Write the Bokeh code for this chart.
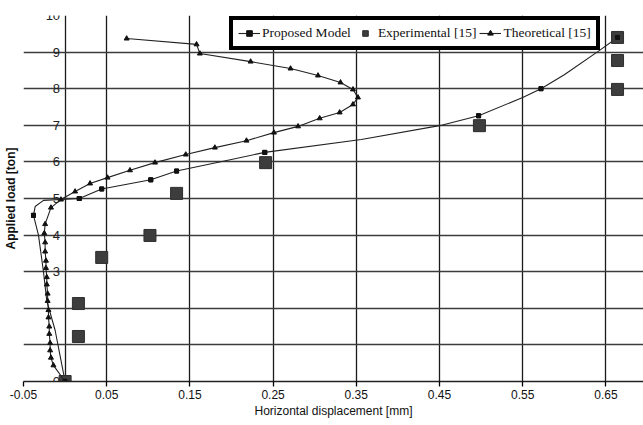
from bokeh.plotting import figure
from bokeh.models import FixedTicker, Legend, LegendItem, Label, Range1d
from bokeh.embed import file_html
from bokeh.resources import INLINE

# ---- data ----
X_TICKS = [-0.05, 0.05, 0.15, 0.25, 0.35, 0.45, 0.55, 0.65]
X_GRID = [-0.05, 0.0, 0.05, 0.15, 0.25, 0.35, 0.45, 0.55, 0.65]
Y_TICKS = [0, 1, 2, 3, 4, 5, 6, 7, 8, 9, 10]
Y_TICK_LABELS = ["0", "", "", "3", "4", "5", "6", "7", "8", "9", "10"]

# Proposed Model (line path and its marker points)
PM_X = [0.0, -0.006, -0.012, -0.022, -0.026, -0.032, -0.038, -0.036, -0.026, 0.017,
        0.044, 0.103, 0.134, 0.190, 0.240, 0.356, 0.450, 0.497, 0.550, 0.572,
        0.600, 0.642, 0.664]
PM_Y = [0.0, 0.7, 1.4, 2.2, 3.0, 4.0, 4.54, 4.78, 4.95, 5.0,
        5.26, 5.51, 5.75, 6.02, 6.26, 6.61, 6.99, 7.26, 7.76, 8.0,
        8.38, 9.04, 9.40]
PM_MX = [0.0, -0.038, 0.017, 0.044, 0.103, 0.134, 0.240, 0.497, 0.572, 0.664]
PM_MY = [0.0, 4.54, 5.0, 5.26, 5.51, 5.75, 6.26, 7.26, 8.0, 9.40]

# Experimental [15]
EX_X = [0.0, 0.016, 0.016, 0.044, 0.102, 0.134, 0.241, 0.498, 0.664, 0.664, 0.664]
EX_Y = [0.0, 1.23, 2.13, 3.39, 3.99, 5.14, 5.98, 6.99, 7.98, 8.77, 9.40]

# Theoretical [15]
TH_X = [0.0, -0.014, -0.017, -0.018, -0.018, -0.019, -0.019, -0.020, -0.020, -0.021,
        -0.021, -0.022, -0.022, -0.023, -0.023, -0.024, -0.024, -0.025, -0.024, -0.017,
        -0.005, 0.012, 0.030, 0.051, 0.078, 0.108, 0.145, 0.180, 0.218, 0.251,
        0.280, 0.306, 0.330, 0.346, 0.352, 0.346, 0.331, 0.304, 0.271, 0.223,
        0.162, 0.158, 0.074]
TH_Y = [0.0, 0.44, 0.65, 0.85, 1.05, 1.3, 1.5, 1.75, 1.95, 2.2,
        2.4, 2.65, 2.85, 3.1, 3.3, 3.55, 3.8, 4.05, 4.3, 4.75,
        4.97, 5.19, 5.41, 5.57, 5.77, 5.98, 6.20, 6.39, 6.58, 6.80,
        6.97, 7.19, 7.35, 7.57, 7.76, 7.98, 8.17, 8.36, 8.55, 8.74,
        8.96, 9.21, 9.37]

NARROW = "'Liberation Sans Narrow', 'Liberation Sans', Arial, sans-serif"

p = figure(width=643, height=425, output_backend="svg", toolbar_location=None,
           x_range=Range1d(-0.05, 0.6952), y_range=Range1d(0, 10),
           min_border_left=22, min_border_right=0, min_border_top=15,
           min_border_bottom=44)
p.outline_line_color = None
p.background_fill_color = "white"
p.border_fill_color = "white"

# grid
p.xgrid.ticker = FixedTicker(ticks=X_GRID)
p.ygrid.ticker = FixedTicker(ticks=Y_TICKS)
p.xgrid.grid_line_color = "#1a1a1a"
p.xgrid.grid_line_width = 1.3
p.ygrid.grid_line_color = "#3c3c3c"
p.ygrid.grid_line_width = 1.6

# x axis
p.xaxis.ticker = FixedTicker(ticks=X_TICKS)
p.xaxis.major_label_overrides = {t: f"{t:.2f}" for t in X_TICKS}
p.xaxis.axis_label = "Horizontal displacement [mm]"
p.xaxis.axis_line_color = "#222222"
p.xaxis.axis_line_width = 1.5
p.xaxis.major_tick_out = 5
p.xaxis.major_tick_in = 0
p.xaxis.major_tick_line_width = 1.3
p.xaxis.minor_tick_line_color = None
p.xaxis.major_label_standoff = 3
p.xaxis.major_label_text_font = NARROW
p.xaxis.major_label_text_font_size = "12px"
p.xaxis.major_label_text_color = "#111111"
p.xaxis.axis_label_text_font = NARROW
p.xaxis.axis_label_text_font_size = "12px"
p.xaxis.axis_label_text_font_style = "normal"
p.xaxis.axis_label_text_color = "#111111"
p.xaxis.axis_label_standoff = 2

# y axis: only the title on the left; tick labels sit on the x = 0 line
p.yaxis.ticker = FixedTicker(ticks=[])
p.yaxis.axis_line_color = None
p.yaxis.major_tick_line_color = None
p.yaxis.minor_tick_line_color = None
p.yaxis.axis_label = "Applied load [ton]"
p.yaxis.axis_label_text_font = NARROW
p.yaxis.axis_label_text_font_size = "12px"
p.yaxis.axis_label_text_font_style = "bold"
p.yaxis.axis_label_text_color = "#111111"
p.yaxis.axis_label_standoff = 6

for t, lab in zip(Y_TICKS, Y_TICK_LABELS):
    if lab:
        p.add_layout(Label(x=0, y=t, text=lab, x_offset=-5, text_align="right",
                           text_baseline="middle", text_font=NARROW,
                           text_font_size="13px", text_color="#222222"))

# series
pm_line = p.line(PM_X, PM_Y, line_color="#222222", line_width=1.1)
pm_pts = p.scatter(PM_MX, PM_MY, marker="square", size=4, color="#111111")
ex_pts = p.scatter(EX_X, EX_Y, marker="square", size=12, fill_color="#3d3d3d",
                   line_color="#2e2e2e")
th_line = p.line(TH_X, TH_Y, line_color="#222222", line_width=1.1)
th_pts = p.scatter(TH_X, TH_Y, marker="triangle", size=5, color="#111111")
# proposed marker on top of experimental squares
p.scatter(PM_MX, PM_MY, marker="square", size=4, color="#111111")

legend = Legend(items=[
    LegendItem(label="Proposed Model", renderers=[pm_line, pm_pts]),
    LegendItem(label="Experimental [15]", renderers=[ex_pts]),
    LegendItem(label="Theoretical [15]", renderers=[th_line, th_pts]),
], orientation="horizontal", location=(206, 331))
legend.border_line_color = "black"
legend.border_line_alpha = 1.0
legend.border_line_width = 4
legend.background_fill_color = "white"
legend.background_fill_alpha = 1
legend.label_text_font = "'Liberation Serif', 'Times New Roman', serif"
legend.label_text_font_size = "13.5px"
legend.label_text_color = "#111111"
legend.glyph_width = 22
legend.glyph_height = 14
legend.label_standoff = 2
legend.spacing = 3
legend.padding = 5
legend.margin = 0
p.add_layout(legend)

open("out.html", "w").write(file_html(p, INLINE))
